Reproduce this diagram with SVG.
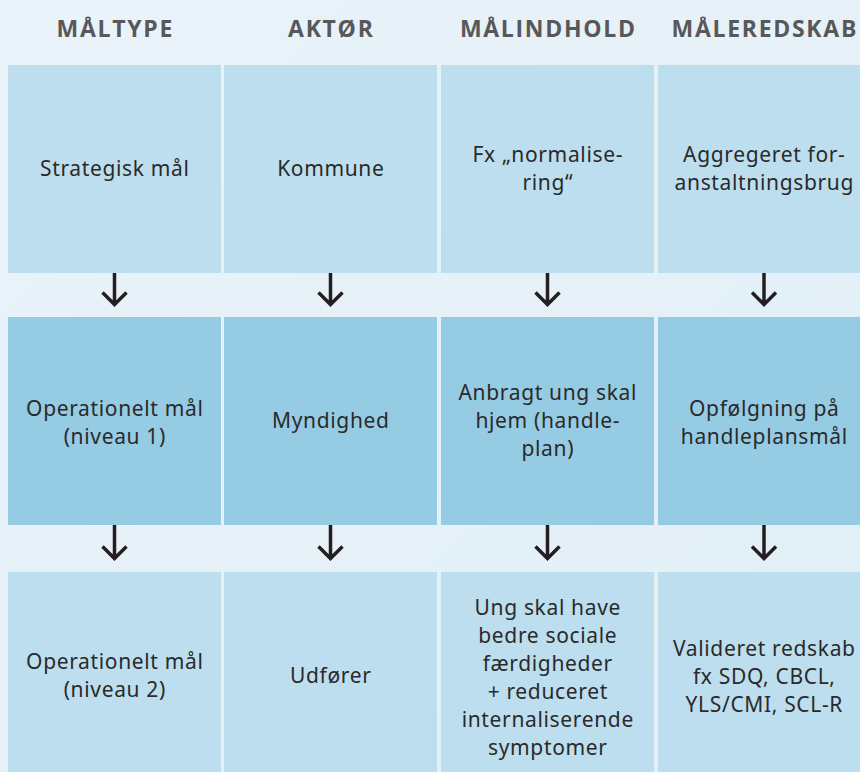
<svg xmlns="http://www.w3.org/2000/svg" width="860" height="772" viewBox="0 0 860 772">
<style>
.c1{fill:#bddeee}
.c2{fill:#96cbe4}
.h{font-family:"Open Sans","Noto Sans",sans-serif;font-weight:bold;font-size:23px;letter-spacing:1.7px;fill:#58585a;text-anchor:middle}
.t{font-family:"Noto Sans","Open Sans",sans-serif;font-size:21px;letter-spacing:0.65px;fill:#2a2a2a;text-anchor:middle}
.ar{stroke:#231f20;stroke-width:3.5;fill:none}
</style>
<defs>
<linearGradient id="g" x1="0" y1="0" x2="1" y2="1">
<stop offset="0" stop-color="#e9f3f9"/>
<stop offset="1" stop-color="#e2eff6"/>
</linearGradient>
</defs>
<rect x="0" y="0" width="860" height="772" fill="url(#g)"/>
<g id="headers">
<text class="h" x="115.3" y="37">MÅLTYPE</text>
<text class="h" x="331.3" y="37">AKTØR</text>
<text class="h" x="548.3" y="37">MÅLINDHOLD</text>
<text class="h" x="764.8" y="37">MÅLEREDSKAB</text>
</g>
<g id="n-r1c1"><rect class="c1" x="8" y="65" width="213" height="208"/><text class="t" x="114.8" y="176">Strategisk mål</text></g>
<g id="n-r1c2"><rect class="c1" x="224" y="65" width="213" height="208"/><text class="t" x="330.8" y="176">Kommune</text></g>
<g id="n-r1c3"><rect class="c1" x="441" y="65" width="213" height="208"/><text class="t" x="547.8" y="162">Fx „normalise-</text><text class="t" x="547.8" y="190">ring“</text></g>
<g id="n-r1c4"><rect class="c1" x="658" y="65" width="213" height="208"/><text class="t" x="764.3" y="162">Aggregeret for-</text><text class="t" x="764.3" y="190">anstaltningsbrug</text></g>
<g id="n-r2c1"><rect class="c2" x="8" y="317" width="213" height="208"/><text class="t" x="114.8" y="416">Operationelt mål</text><text class="t" x="114.8" y="444">(niveau 1)</text></g>
<g id="n-r2c2"><rect class="c2" x="224" y="317" width="213" height="208"/><text class="t" x="330.8" y="428">Myndighed</text></g>
<g id="n-r2c3"><rect class="c2" x="441" y="317" width="213" height="208"/><text class="t" x="547.8" y="400">Anbragt ung skal</text><text class="t" x="547.8" y="428">hjem (handle-</text><text class="t" x="547.8" y="456">plan)</text></g>
<g id="n-r2c4"><rect class="c2" x="658" y="317" width="213" height="208"/><text class="t" x="764.3" y="416">Opfølgning på</text><text class="t" x="764.3" y="444">handleplansmål</text></g>
<g id="n-r3c1"><rect class="c1" x="8" y="572" width="213" height="210"/><text class="t" x="114.8" y="669">Operationelt mål</text><text class="t" x="114.8" y="697">(niveau 2)</text></g>
<g id="n-r3c2"><rect class="c1" x="224" y="572" width="213" height="210"/><text class="t" x="330.8" y="683">Udfører</text></g>
<g id="n-r3c3"><rect class="c1" x="441" y="572" width="213" height="210"/><text class="t" x="547.8" y="615">Ung skal have</text><text class="t" x="547.8" y="643">bedre sociale</text><text class="t" x="547.8" y="671">færdigheder</text><text class="t" x="547.8" y="699">+ reduceret</text><text class="t" x="547.8" y="727">internaliserende</text><text class="t" x="547.8" y="755">symptomer</text></g>
<g id="n-r3c4"><rect class="c1" x="658" y="572" width="213" height="210"/><text class="t" x="764.3" y="656">Valideret redskab</text><text class="t" x="764.3" y="684">fx SDQ, CBCL,</text><text class="t" x="764.3" y="712">YLS/CMI, SCL-R</text></g>
<g id="connectors">
<path class="ar" d="M114.5 273V305M102.5 292.5L114.5 304.5L126.5 292.5"/>
<path class="ar" d="M330.5 273V305M318.5 292.5L330.5 304.5L342.5 292.5"/>
<path class="ar" d="M547.5 273V305M535.5 292.5L547.5 304.5L559.5 292.5"/>
<path class="ar" d="M764 273V305M752 292.5L764 304.5L776 292.5"/>
<path class="ar" d="M114.5 525V559M102.5 546.5L114.5 558.5L126.5 546.5"/>
<path class="ar" d="M330.5 525V559M318.5 546.5L330.5 558.5L342.5 546.5"/>
<path class="ar" d="M547.5 525V559M535.5 546.5L547.5 558.5L559.5 546.5"/>
<path class="ar" d="M764 525V559M752 546.5L764 558.5L776 546.5"/>
</g>
</svg>
